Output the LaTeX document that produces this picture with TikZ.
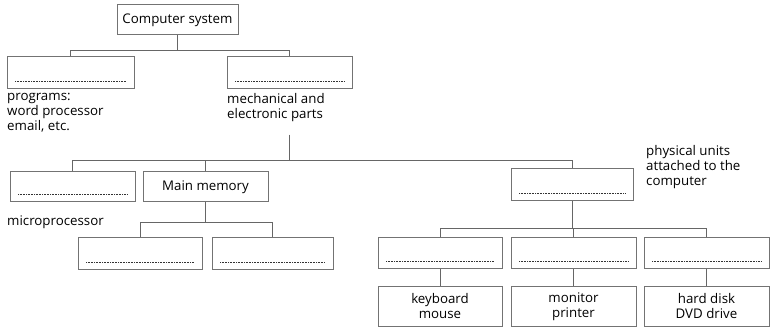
\documentclass[tikz,border=0pt]{standalone}
\usepackage{fontspec}
\setmainfont{Open Sans}
\begin{document}
\begin{tikzpicture}[x=1pt,y=-1pt,
  box/.style={draw=black!55,line width=1pt,minimum width=125pt,minimum height=31pt,inner sep=0pt,align=center,font=\fontsize{13.3}{15}\selectfont},
  blank/.style={box,path picture={\draw[black!80,line width=0.7pt,dash pattern=on 0.7pt off 0.9pt] ([xshift=8pt,yshift=8pt]path picture bounding box.south west) -- ([xshift=-8pt,yshift=8pt]path picture bounding box.south east);}},
  note/.style={align=left,inner sep=0pt,font=\fontsize{13.3}{15}\selectfont},
  link/.style={draw=black!60,line width=0.8pt}]
			\useasboundingbox (0,0) rectangle (770,328);
			% top level
			\node[box,minimum width=121pt,minimum height=30pt] (cs) at (177.5,20) {Computer system};
			\node[blank,minimum width=127pt,minimum height=32pt] (sw) at (70.5,73) {};
			\node[blank,minimum height=32pt] (hw) at (289.5,73) {};
			\node[note,anchor=north west] (swtxt) at (7,93) {programs:\\word processor\\email, etc.};
			\node[note,anchor=north west] (hwtxt) at (227,93) {mechanical and\\electronic parts};
			\coordinate (bus1) at (0,50);
			\draw[link] (cs.south) -- (cs.south |- bus1);
			\draw[link] (sw.north) -- (sw.north |- bus1) -- (hw.north |- bus1) -- (hw.north);
			% hardware
			\node[blank,minimum height=30pt] (cpu) at (72.5,187) {};
			\node[box,minimum height=30pt] (mem) at (205.5,187) {Main memory};
			\node[blank,minimum width=122pt,minimum height=32pt] (per) at (572,185) {};
			\node[note,anchor=west] (cputxt) at (7,222) {microprocessor};
			\node[note,anchor=north west] (pertxt) at (646,145) {physical units\\attached to the\\computer};
			\coordinate (bus2) at (0,160);
			\draw[link] (hw |- hwtxt.south) ++(0,13) -- (hw |- bus2);
			\draw[link] (cpu.north) -- (cpu.north |- bus2) -- (per.north |- bus2) -- (per.north);
			\draw[link] (mem.north) -- (mem.north |- bus2);
			% memory
			\node[blank,minimum width=124pt,minimum height=32pt] (ram) at (140,254) {};
			\node[blank,minimum width=121pt,minimum height=32pt] (rom) at (272.5,254) {};
			\coordinate (bus3) at (0,222);
			\draw[link] (mem.south) -- (mem.south |- bus3);
			\draw[link] (ram.north) -- (ram.north |- bus3) -- (rom.north |- bus3) -- (rom.north);
			% peripherals
			\node[blank,minimum width=124pt] (in) at (440,253.5) {};
			\node[blank] (out) at (573.5,253.5) {};
			\node[blank] (sto) at (706.5,253.5) {};
			\node[box,minimum width=124pt,minimum height=40pt] (kb) at (440,306.5) {keyboard\\mouse};
			\node[box,minimum height=40pt] (mon) at (573.5,306.5) {monitor\\printer};
			\node[box,minimum height=40pt] (hd) at (706.5,306.5) {hard disk\\DVD drive};
			\coordinate (bus4) at (0,228);
			\draw[link] (per.south) -- (per.south |- bus4);
			\draw[link] (in.north) -- (in.north |- bus4) -- (sto.north |- bus4) -- (sto.north);
			\draw[link] (out.north) -- (out.north |- bus4);
			\draw[link] (in) -- (kb);
			\draw[link] (out) -- (mon);
			\draw[link] (sto) -- (hd);
		\end{tikzpicture}
\end{document}
